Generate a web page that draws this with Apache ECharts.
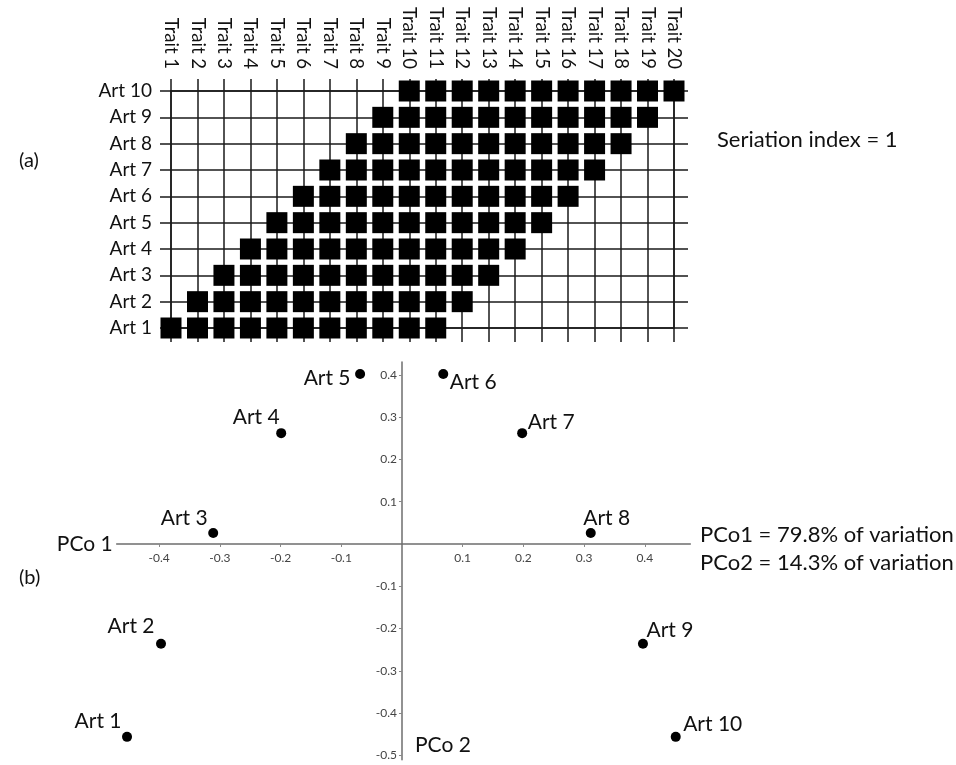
<!DOCTYPE html>
<html>
<head>
<meta charset="utf-8">
<script src="https://cdn.jsdelivr.net/npm/echarts@6/dist/echarts.min.js"></script>
<style>
html,body{margin:0;padding:0;background:#fff;}
#chart{width:956px;height:765px;}
</style>
</head>
<body>
<div id="chart"></div>
<script>
// ---- Data ----
const traits = ['Trait 1','Trait 2','Trait 3','Trait 4','Trait 5','Trait 6','Trait 7','Trait 8','Trait 9','Trait 10',
  'Trait 11','Trait 12','Trait 13','Trait 14','Trait 15','Trait 16','Trait 17','Trait 18','Trait 19','Trait 20'];
const artifacts = ['Art 1','Art 2','Art 3','Art 4','Art 5','Art 6','Art 7','Art 8','Art 9','Art 10'];
// presence (1) / absence (0) of each trait, one row per artifact (Art 1 .. Art 10)
const presence = [
  [1,1,1,1,1,1,1,1,1,1,1,0,0,0,0,0,0,0,0,0],
  [0,1,1,1,1,1,1,1,1,1,1,1,0,0,0,0,0,0,0,0],
  [0,0,1,1,1,1,1,1,1,1,1,1,1,0,0,0,0,0,0,0],
  [0,0,0,1,1,1,1,1,1,1,1,1,1,1,0,0,0,0,0,0],
  [0,0,0,0,1,1,1,1,1,1,1,1,1,1,1,0,0,0,0,0],
  [0,0,0,0,0,1,1,1,1,1,1,1,1,1,1,1,0,0,0,0],
  [0,0,0,0,0,0,1,1,1,1,1,1,1,1,1,1,1,0,0,0],
  [0,0,0,0,0,0,0,1,1,1,1,1,1,1,1,1,1,1,0,0],
  [0,0,0,0,0,0,0,0,1,1,1,1,1,1,1,1,1,1,1,0],
  [0,0,0,0,0,0,0,0,0,1,1,1,1,1,1,1,1,1,1,1]
];
const pco1 = [-0.453,-0.397,-0.311,-0.199,-0.069,0.068,0.198,0.311,0.397,0.451];
const pco2 = [-0.456,-0.236,0.026,0.262,0.402,0.402,0.262,0.026,-0.236,-0.456];
const xTickValues = [-0.4,-0.3,-0.2,-0.1,0.1,0.2,0.3,0.4];
const yTickValues = [-0.5,-0.4,-0.3,-0.2,-0.1,0.1,0.2,0.3,0.4];
const seriationText = 'Seriation index = 1';
const varianceText = ['PCo1 = 79.8% of variation','PCo2 = 14.3% of variation'];

// ---- Layout / styling ----
const labelOffsets = [[-29,-16],[-30,-18],[-29,-15],[-25,-16],[-33,4],[30,8],[29,-11],[16,-15],[27,-14],[37,-13]];
const FONT = 'Lato';
const LINE = '#1a1a1a';
const AX = '#6e6e6e';

// PCo panel geometry (pixels) and ranges
const pGrid = {left: 116.7, right: 265.7, top: 362.1, bottom: 5.3};
const pX = [-0.47, 0.475], pY = [-0.51, 0.43];
const pW = 956 - pGrid.left - pGrid.right, pH = 765 - pGrid.top - pGrid.bottom;
// move the axes so that they cross at the origin
const xAxisOffset = -(pH * (0 - pY[0]) / (pY[1] - pY[0]));
const yAxisOffset = -(pW * (0 - pX[0]) / (pX[1] - pX[0]));

const cellData = [];
presence.forEach((row, i) => row.forEach((v, j) => { if (v) cellData.push([traits[j], artifacts[i]]); }));

const pcoData = pco1.map((x, i) => ({
  value: [x, pco2[i]],
  name: artifacts[i],
  label: {offset: labelOffsets[i]}
}));

const chart = echarts.init(document.getElementById('chart'), null, {renderer: 'canvas'});
chart.setOption({
  backgroundColor: '#fff',
  animation: false,
  grid: [
    {left: 171, right: 282, top: 91, bottom: 437, outerBoundsMode: 'none', containLabel: false},
    Object.assign({outerBoundsMode: 'none', containLabel: false}, pGrid)
  ],
  xAxis: [
    {
      gridIndex: 0, type: 'category', data: traits, boundaryGap: false, position: 'top',
      axisLine: {show: true, lineStyle: {color: LINE, width: 1.5}},
      axisTick: {show: true, length: 12, lineStyle: {color: LINE, width: 1.5}},
      axisLabel: {rotate: 90, margin: 22, fontFamily: FONT, fontSize: 18.5, color: '#111', interval: 0},
      splitLine: {show: true, lineStyle: {color: LINE, width: 1.5}}
    },
    {
      gridIndex: 0, type: 'category', data: traits, boundaryGap: false, position: 'bottom',
      axisLine: {show: true, lineStyle: {color: LINE, width: 1.5}},
      axisTick: {show: true, length: 14, lineStyle: {color: LINE, width: 1.5}, interval: 0},
      axisLabel: {show: false},
      splitLine: {show: false}
    },
    {
      gridIndex: 1, type: 'value', min: pX[0], max: pX[1], position: 'bottom', offset: xAxisOffset,
      name: 'PCo 1', nameLocation: 'start', nameGap: 4,
      nameTextStyle: {fontFamily: FONT, fontSize: 21, color: '#111', verticalAlign: 'middle'},
      axisLine: {show: true, onZero: false, lineStyle: {color: AX, width: 1.5}},
      axisTick: {show: true, length: 3, customValues: xTickValues, lineStyle: {color: '#888'}},
      axisLabel: {customValues: xTickValues, margin: 8, fontFamily: FONT, fontSize: 12, color: '#444',
        formatter: v => v.toFixed(1)},
      splitLine: {show: false}
    }
  ],
  yAxis: [
    {
      gridIndex: 0, type: 'category', data: artifacts, boundaryGap: false, position: 'left',
      axisLine: {show: true, lineStyle: {color: LINE, width: 1.5}},
      axisTick: {show: true, length: 11, lineStyle: {color: LINE, width: 1.5}},
      axisLabel: {margin: 19, fontFamily: FONT, fontSize: 19, color: '#111', interval: 0},
      splitLine: {show: true, lineStyle: {color: LINE, width: 1.5}}
    },
    {
      gridIndex: 0, type: 'category', data: artifacts, boundaryGap: false, position: 'right',
      axisLine: {show: true, lineStyle: {color: LINE, width: 1.5}},
      axisTick: {show: true, length: 14, lineStyle: {color: LINE, width: 1.5}, interval: 0},
      axisLabel: {show: false},
      splitLine: {show: false}
    },
    {
      gridIndex: 1, type: 'value', min: pY[0], max: pY[1], position: 'left', offset: yAxisOffset,
      axisLine: {show: true, onZero: false, lineStyle: {color: AX, width: 1.5}},
      axisTick: {show: true, length: 3, customValues: yTickValues, lineStyle: {color: '#888'}},
      axisLabel: {customValues: yTickValues, margin: 5, fontFamily: FONT, fontSize: 12, color: '#444',
        formatter: v => v.toFixed(1)},
      splitLine: {show: false}
    }
  ],
  series: [
    {
      type: 'scatter', xAxisIndex: 0, yAxisIndex: 0,
      symbol: 'rect', symbolSize: 21,
      itemStyle: {color: '#000', opacity: 1},
      data: cellData, z: 5
    },
    {
      type: 'scatter', xAxisIndex: 2, yAxisIndex: 2,
      symbol: 'circle', symbolSize: 10,
      itemStyle: {color: '#000', opacity: 1},
      label: {show: true, position: 'inside', align: 'center', verticalAlign: 'middle',
        formatter: '{b}', fontFamily: FONT, fontSize: 21, color: '#111'},
      data: pcoData, z: 5
    }
  ],
  graphic: [
    {type: 'text', left: 19, top: 151, style: {text: '(a)', font: '20px ' + FONT, fill: '#111'}},
    {type: 'text', left: 19, top: 568, style: {text: '(b)', font: '20px ' + FONT, fill: '#111'}},
    {type: 'text', left: 717, top: 129, style: {text: seriationText, font: '22px ' + FONT, fill: '#111'}},
    {type: 'text', left: 700, top: 524, style: {text: varianceText[0], font: '22px ' + FONT, fill: '#111'}},
    {type: 'text', left: 700, top: 552, style: {text: varianceText[1], font: '22px ' + FONT, fill: '#111'}},
    {type: 'text', left: 415, top: 735, style: {text: 'PCo 2', font: '21px ' + FONT, fill: '#111'}}
  ]
});
</script>
</body>
</html>
